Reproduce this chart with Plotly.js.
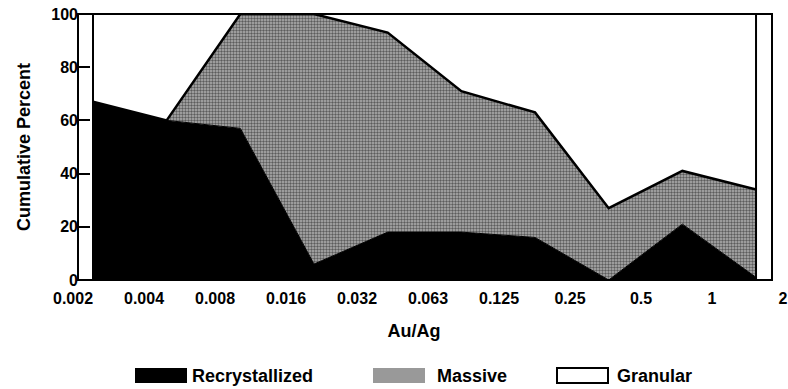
<!DOCTYPE html>
<html><head><meta charset="utf-8">
<script src="https://cdn.plot.ly/plotly-3.0.1.min.js"></script>
<style>html,body{margin:0;padding:0;background:#fff}</style>
</head><body><div id="chart" style="width:788px;height:389px"></div>
<script>
// Au/Ag classes (tick labels) and the ten plotted bins
const ratioLabels = ['0.002','0.004','0.008','0.016','0.032','0.063','0.125','0.25','0.5','1','2'];
const binIndex = [0,1,2,3,4,5,6,7,8,9];
// percent of each texture per bin (stacked to 100)
const recrystallized = [67,60,57,6,18,18,16,0,21,1];
const massive = [0,0,43,94,75,53,47,27,20,33];
const granular = [33,40,0,0,7,29,37,73,59,66];
const seriesNames = ['Recrystallized','Massive','Granular'];
const yTicks = [0,20,40,60,80,100];

const FONT = 'Liberation Sans, Arial, Helvetica, sans-serif';
const W = 788, H = 389;
const M = {l: 40, r: 0, t: 14, b: 109};
const plotW = W - M.l - M.r, plotH = H - M.t - M.b;
const px = v => (v - M.l) / plotW;
const py = v => (M.t + plotH - v) / plotH;
// pixel layout of the x scale: first bin at 93px, 73.67px per bin
const X0PX = 93, STEP = 73.67;
const toX = p => (p - X0PX) / STEP;
// tick labels sit on their own even spacing (73px .. 783px)
const labelPos = ratioLabels.map((_, k) => toX(73 + 71 * k));

const last = binIndex.length - 1;
const totals = binIndex.map(i => recrystallized[i] + massive[i] + granular[i]);

const traces = [
  {x: binIndex, y: recrystallized, name: seriesNames[0], stackgroup: 'one', mode: 'lines',
   line: {color: '#000', width: 1}, fillcolor: '#000', hoverinfo: 'skip'},
  {x: binIndex, y: massive, name: seriesNames[1], stackgroup: 'one', mode: 'lines',
   line: {color: '#000', width: 2.5}, fillcolor: '#a0a0a0',
   fillpattern: {shape: '.', bgcolor: '#b2b2b2', fgcolor: '#5c5c5c', size: 3, solidity: 0.5},
   hoverinfo: 'skip'},
  {x: binIndex, y: granular, name: seriesNames[2], stackgroup: 'one', mode: 'lines',
   line: {color: '#000', width: 2}, fillcolor: '#fff', hoverinfo: 'skip'},
  {x: [binIndex[0], binIndex[0], binIndex[last], binIndex[last]],
   y: [0, totals[0], totals[last], 0], mode: 'lines',
   line: {color: '#000', width: 2}, hoverinfo: 'skip', showlegend: false}
];

// legend drawn as shapes + annotations
const legendItems = [
  {name: seriesNames[0], x0: 135, x1: 187, tx: 190, fill: '#000', lw: 0},
  {name: seriesNames[1], x0: 373, x1: 425, tx: 435, fill: '#999999', lw: 0},
  {name: seriesNames[2], x0: 557, x1: 608, tx: 615, fill: '#fff', lw: 2}
];
const shapes = legendItems.map(it => ({
  type: 'rect', xref: 'paper', yref: 'paper', x0: px(it.x0), x1: px(it.x1), y0: py(383), y1: py(368),
  fillcolor: it.fill, line: {color: '#000', width: it.lw}
}));
// plot frame
shapes.push({type: 'rect', xref: 'paper', yref: 'paper', x0: px(78), x1: px(772), y0: 0, y1: 1,
  line: {color: '#000', width: 2}, fillcolor: 'rgba(0,0,0,0)', layer: 'above'});

const annotations = legendItems.map(it => ({
  xref: 'paper', yref: 'paper', x: px(it.tx), y: py(376), xanchor: 'left', yanchor: 'middle',
  text: it.name, showarrow: false, font: {family: FONT, size: 18, color: '#000', weight: 'bold'}
}));

const layout = {
  width: W, height: H, margin: M, showlegend: false,
  paper_bgcolor: '#fff', plot_bgcolor: '#fff',
  font: {family: FONT, color: '#000'},
  xaxis: {domain: [0, 1], range: [toX(M.l), toX(W - M.r)],
    tickmode: 'array', tickvals: labelPos, ticktext: ratioLabels, ticks: '', ticklabelstandoff: 7,
    showline: false, showgrid: false, zeroline: false,
    tickfont: {family: FONT, size: 16, color: '#000', weight: 'bold'},
    title: {text: 'Au/Ag', font: {family: FONT, size: 18, color: '#000', weight: 'bold'}, standoff: 18}},
  yaxis: {anchor: 'free', position: px(78), range: [0, 100], tickmode: 'array', tickvals: yTicks,
    ticks: 'inside', ticklen: 11, tickwidth: 2, tickcolor: '#000', showline: false,
    showgrid: false, zeroline: false,
    tickfont: {family: FONT, size: 16, color: '#000', weight: 'bold'},
    title: {text: 'Cumulative Percent', font: {family: FONT, size: 18, color: '#000', weight: 'bold'}, standoff: 14}},
  shapes: shapes, annotations: annotations
};

Plotly.newPlot('chart', traces, layout, {staticPlot: true, displayModeBar: false});
</script></body></html>
